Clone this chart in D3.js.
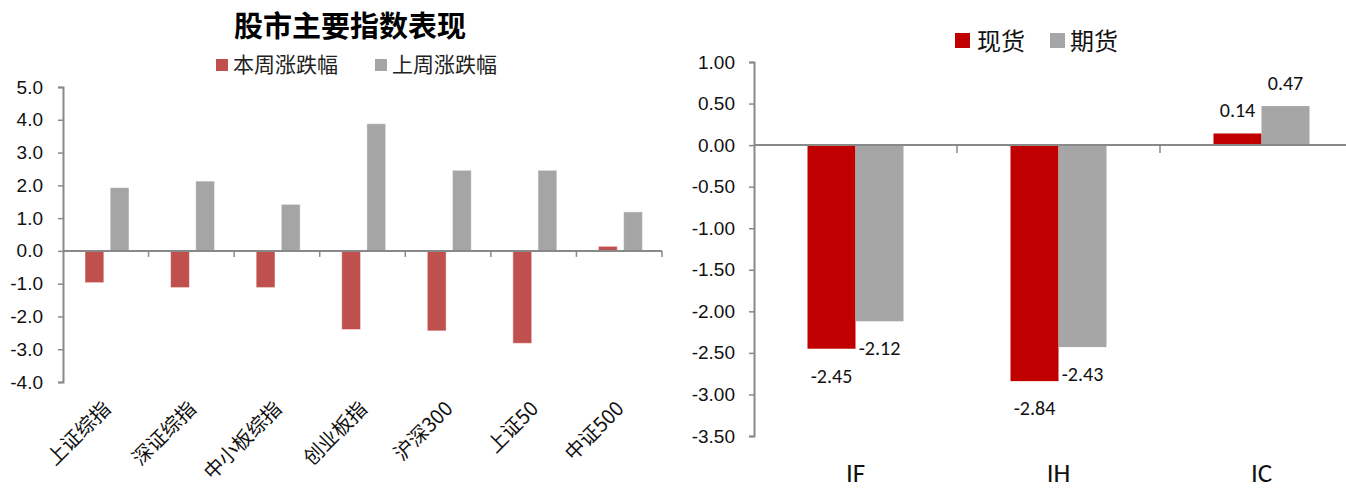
<!DOCTYPE html>
<html>
<head>
<meta charset="utf-8">
<script src="https://cdn.jsdelivr.net/npm/d3@7"></script>
<style>
  body { margin: 0; background: #fff; }
  svg { display: block; font-family: Carlito, Lato, "Noto Sans CJK SC", sans-serif; }
  .cjk { font-family: "Noto Sans CJK SC", sans-serif; }
</style>
</head>
<body>
<svg width="1346" height="489"></svg>
<script>
// left chart data
const indexNames = ["上证综指", "深证综指", "中小板综指", "创业板指", "沪深300", "上证50", "中证500"];
const thisWeek = [-0.97, -1.12, -1.12, -2.40, -2.44, -2.82, 0.14];
const lastWeek = [1.93, 2.13, 1.42, 3.88, 2.46, 2.46, 1.19];
const leftSeries = ["本周涨跌幅", "上周涨跌幅"];
const leftTicks = [-4, -3, -2, -1, 0, 1, 2, 3, 4, 5];

// right chart data
const contracts = ["IF", "IH", "IC"];
const spot = [-2.45, -2.84, 0.14];
const futures = [-2.12, -2.43, 0.47];
const rightSeries = ["现货", "期货"];
const rightTicks = [-3.5, -3, -2.5, -2, -1.5, -1, -0.5, 0, 0.5, 1];

const svg = d3.select("svg");
const axisColor = "#898989";

// ---------- left chart ----------
const leftColors = ["#C0504D", "#A5A5A5"];
const yL = d3.scaleLinear().domain([-4, 5]).range([382, 87]);
const x0L = d3.scaleBand().domain(indexNames).range([63, 662]);
const x1L = d3.scaleBand().domain(leftSeries).range([22, 66]).paddingInner(0.25);

const left = svg.append("g");

left.append("text")
  .attr("class", "cjk")
  .attr("x", 350).attr("y", 37)
  .attr("text-anchor", "middle")
  .attr("font-size", 29).attr("font-weight", "bold")
  .text("股市主要指数表现");

const legL = left.append("g").attr("class", "cjk");
[[216, 233], [375, 392]].forEach(([sx, tx], i) => {
  legL.append("rect").attr("x", sx).attr("y", 59).attr("width", 12).attr("height", 12)
    .attr("fill", leftColors[i]);
  legL.append("text").attr("x", tx).attr("y", 72).attr("font-size", 21).attr("fill", "#222")
    .text(leftSeries[i]);
});

const leftAxis = left.append("g")
  .attr("transform", "translate(63,0)")
  .call(d3.axisLeft(yL).tickValues(leftTicks).tickSize(5).tickPadding(15)
    .tickFormat(d => d.toFixed(1)));
leftAxis.select(".domain").attr("stroke", axisColor).attr("stroke-width", 2);
leftAxis.selectAll(".tick line").attr("stroke", axisColor).attr("stroke-width", 1.5);
leftAxis.selectAll(".tick text").attr("font-size", 19).attr("fill", "#111");

const rowsL = indexNames.map((name, i) => ({ name, vals: [thisWeek[i], lastWeek[i]] }));
left.append("g").selectAll("g").data(rowsL).join("g")
  .attr("transform", d => `translate(${x0L(d.name)},0)`)
  .selectAll("rect")
  .data(d => d.vals.map((v, j) => ({ key: leftSeries[j], v, j })))
  .join("rect")
  .attr("x", d => x1L(d.key))
  .attr("width", x1L.bandwidth())
  .attr("y", d => yL(Math.max(0, d.v)))
  .attr("height", d => Math.abs(yL(d.v) - yL(0)))
  .attr("fill", d => leftColors[d.j])
  .attr("stroke", "#fff").attr("stroke-opacity", 0.5).attr("stroke-width", 1);

// x axis line with boundary ticks
const zeroL = yL(0);
const xAxisL = left.append("g").attr("stroke", axisColor);
xAxisL.append("line").attr("x1", 63).attr("x2", 662).attr("y1", zeroL).attr("y2", zeroL)
  .attr("stroke-width", 2);
const boundsL = indexNames.slice(1).map(n => x0L(n)).concat([x0L.range()[1]]);
xAxisL.selectAll(".bt").data(boundsL).join("line")
  .attr("x1", d => d).attr("x2", d => d)
  .attr("y1", zeroL).attr("y2", zeroL + 6).attr("stroke-width", 1.5);

left.append("g").selectAll("text").data(indexNames).join("text")
  .attr("class", "cjk")
  .attr("transform", d => `translate(${x0L(d) + x0L.bandwidth() / 2 + 6},410) rotate(-45)`)
  .attr("text-anchor", "end")
  .attr("font-size", 20).attr("fill", "#111")
  .text(d => d);

// ---------- right chart ----------
const rightColors = ["#C00000", "#A6A6A6"];
const yR = d3.scaleLinear().domain([-3.5, 1]).range([436, 62]);
const x0R = d3.scaleBand().domain(contracts).range([754, 1363]);
const x1R = d3.scaleBand().domain(rightSeries)
  .range([x0R.bandwidth() / 2 - 48, x0R.bandwidth() / 2 + 48]);

const right = svg.append("g");

const legR = right.append("g").attr("class", "cjk");
[[955, 977], [1050, 1070]].forEach(([sx, tx], i) => {
  legR.append("rect").attr("x", sx).attr("y", 33).attr("width", 15).attr("height", 15)
    .attr("fill", rightColors[i]);
  legR.append("text").attr("x", tx).attr("y", 50).attr("font-size", 24).attr("fill", "#111")
    .text(rightSeries[i]);
});

const rightAxis = right.append("g")
  .attr("transform", "translate(754,0)")
  .call(d3.axisLeft(yR).tickValues(rightTicks).tickSize(5).tickPadding(14)
    .tickFormat(d => d.toFixed(2)));
rightAxis.select(".domain").attr("stroke", axisColor).attr("stroke-width", 2);
rightAxis.selectAll(".tick line").attr("stroke", axisColor).attr("stroke-width", 1.5);
rightAxis.selectAll(".tick text").attr("font-size", 19).attr("fill", "#111");

const rowsR = contracts.map((name, i) => ({ name, vals: [spot[i], futures[i]] }));
const barsR = right.append("g").selectAll("g").data(rowsR).join("g")
  .attr("transform", d => `translate(${x0R(d.name)},0)`)
  .selectAll("g")
  .data(d => d.vals.map((v, j) => ({ key: rightSeries[j], v, j })))
  .join("g");

barsR.append("rect")
  .attr("x", d => x1R(d.key))
  .attr("width", x1R.bandwidth())
  .attr("y", d => yR(Math.max(0, d.v)))
  .attr("height", d => Math.abs(yR(d.v) - yR(0)))
  .attr("fill", d => rightColors[d.j]);

barsR.append("text")
  .attr("x", d => x1R(d.key) + x1R.bandwidth() / 2)
  .attr("y", d => d.v >= 0 ? yR(d.v) - 16 : yR(d.v) + 34)
  .attr("text-anchor", "middle")
  .attr("font-size", 20).attr("fill", "#111")
  .text(d => d.v.toFixed(2));

const zeroR = yR(0);
const xAxisR = right.append("g").attr("stroke", axisColor);
xAxisR.append("line").attr("x1", 754).attr("x2", 1363).attr("y1", zeroR).attr("y2", zeroR)
  .attr("stroke-width", 2);
const boundsR = contracts.slice(1).map(n => x0R(n));
xAxisR.selectAll(".bt").data(boundsR).join("line")
  .attr("x1", d => d).attr("x2", d => d)
  .attr("y1", zeroR).attr("y2", zeroR + 8).attr("stroke-width", 1.5);

right.append("g").selectAll("text").data(contracts).join("text")
  .attr("x", d => x0R(d) + x0R.bandwidth() / 2)
  .attr("y", 482)
  .attr("text-anchor", "middle")
  .attr("font-size", 27).attr("fill", "#111")
  .text(d => d);
</script>
</body>
</html>
